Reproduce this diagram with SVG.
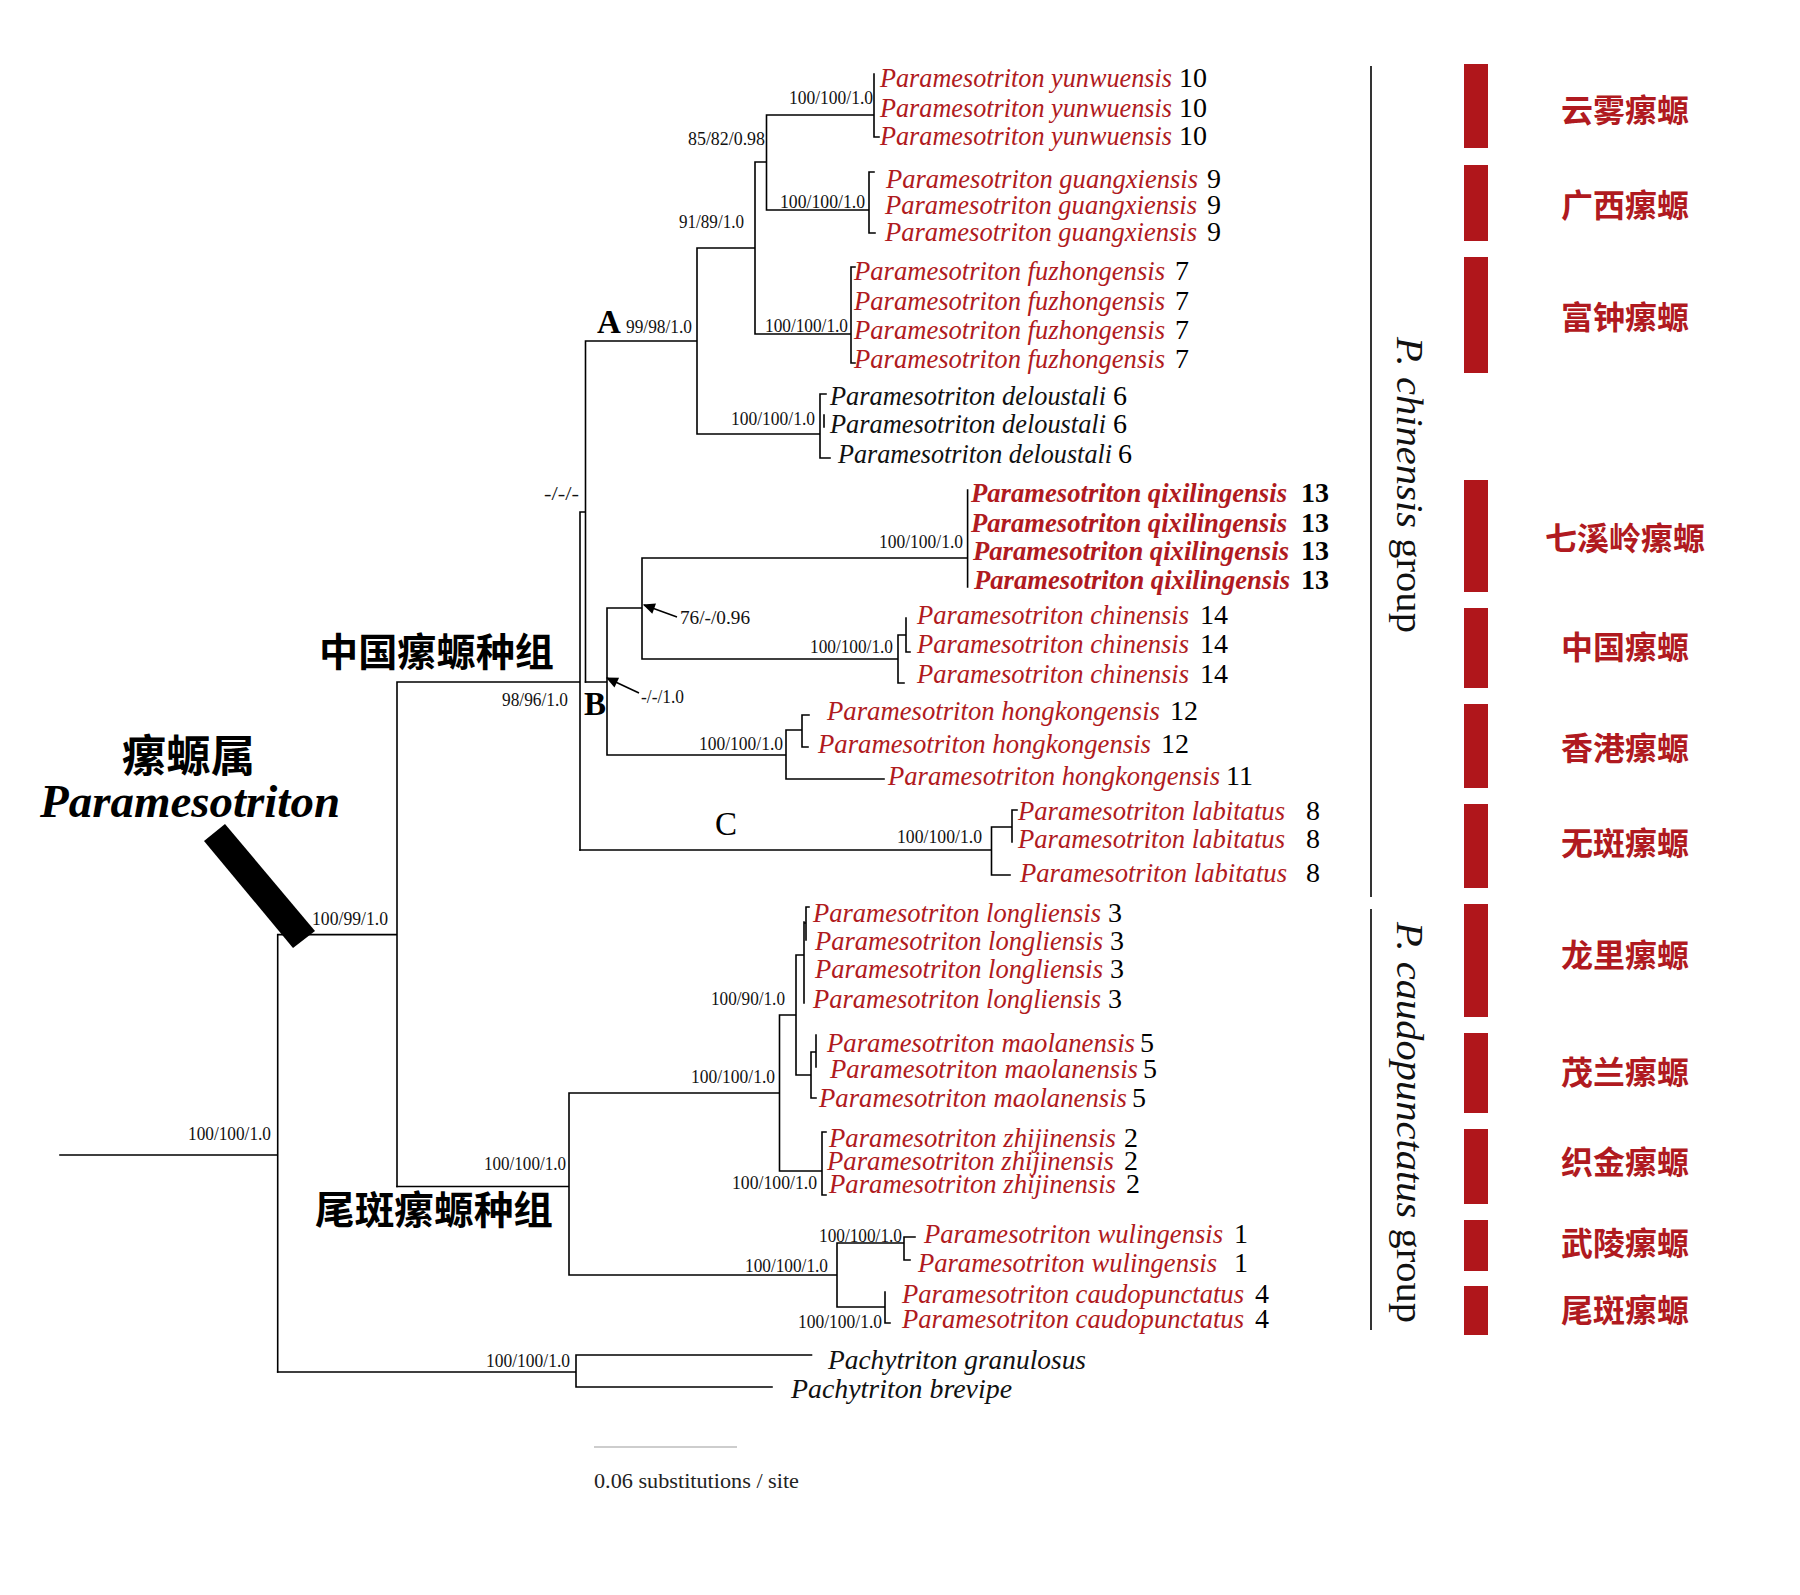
<svg xmlns="http://www.w3.org/2000/svg" width="1800" height="1595" viewBox="0 0 1800 1595">
<style>
.br{stroke:#000;stroke-width:1.6;fill:none;stroke-linecap:square}
.sp{font-family:"Liberation Serif","Times New Roman",serif;font-style:italic;font-size:27px;fill:#B01A20}
.spb{font-weight:bold}
.blk{fill:#111}
.num{font-family:"Liberation Serif","Times New Roman",serif;font-size:28px;fill:#000}
.sup{font-family:"Liberation Serif","Times New Roman",serif;font-size:19px;fill:#111}
.clade{font-family:"Liberation Serif","Times New Roman",serif;font-size:33px;fill:#000}
.cn{font-family:"Noto Sans CJK SC",sans-serif;font-weight:bold}
.rl{font-family:"Noto Sans CJK SC",sans-serif;font-weight:bold;font-size:32px;fill:#B01A20;text-anchor:middle}
.bar{fill:#B0161B}
.grp{font-family:"Liberation Serif","Times New Roman",serif;font-size:37px;fill:#111}
.end{text-anchor:end}
</style>
<defs>
<marker id="ah" viewBox="0 0 10 10" refX="9" refY="5" markerWidth="14" markerHeight="12" markerUnits="userSpaceOnUse" orient="auto"><path d="M0,0.5 L10,5 L0,9.5 z" fill="#000"/></marker>
</defs>
<rect width="1800" height="1595" fill="#fff"/>

<g id="connectors">
<path class="br" d="M60 1155 H277.7 M277.7 934.6 V1372 M277.7 934.6 H397 M397 682 V1186.5 M397 682 H580 M580 512 V850 M580 512 H585.5 M585.5 341 V682 M585.5 341 H697 M697 248 V434 M697 248 H755 M755 162 V334 M755 162 H766.5 M766.5 115 V210 M766.5 115 H874 M874 74 V137 M874 137 H879 M766.5 210 H869 M869 172 V233 M869 172 H874 M869 233 H875 M755 334 H851 M851 267 V363 M851 267 H855 M851 363 H855 M697 434 H820 M820 394 V458 M820 394 H826 M820 458 H830 M824 415 V427"/>
<path class="br" d="M585.5 682 H607 M607 608 V755 M607 608 H642 M642 558 V659 M642 558 H967.6 M967.6 490 V587 M642 659 H898 M898 635 V683 M898 683 H904 M898 635 H906 M906 618 V652 M906 652 H910 M607 755 H786 M786 730 V779 M786 730 H802 M802 715 V747 M802 715 H809 M802 747 H808 M786 779 H884 M580 850 H991.5 M991.5 827 V875 M991.5 875 H1010 M991.5 827 H1012 M1012 810 V842 M1012 810 H1017"/>
<path class="br" d="M397 1186.5 H569 M569 1093 V1275 M569 1093 H779.5 M779.5 1015 V1171 M779.5 1015 H796 M796 955 V1075 M796 955 H804 M804 922 V1003 M804 923 H806 M806 907 V940 M806 907 H809 M796 1075 H811 M811 1052 V1098 M811 1098 H816 M811 1052 H816 M816 1035 V1067 M779.5 1171 H822 M822 1132 V1195 M822 1132 H826 M822 1195 H826 M569 1275 H837 M837 1243 V1307 M837 1243 H904 M904 1237 V1260 M904 1237 H915 M904 1260 H910 M837 1307 H885 M885 1292 V1323 M885 1323 H890 M277.7 1372 H576 M576 1355 V1387 M576 1355 H811.5 M576 1387 H772"/>
<line x1="677" y1="617" x2="644" y2="605" stroke="#000" stroke-width="1.6" marker-end="url(#ah)"/>
<line x1="639" y1="693" x2="607" y2="678" stroke="#000" stroke-width="1.6" marker-end="url(#ah)"/>
<polygon points="204,841 225,824 315,931 293,948" fill="#000"/>
<line x1="1371" y1="66" x2="1371" y2="897" stroke="#000" stroke-width="1.6"/>
<line x1="1371" y1="909" x2="1371" y2="1330" stroke="#000" stroke-width="1.6"/>
<line x1="594" y1="1447" x2="737" y2="1447" stroke="#bdbdbd" stroke-width="1.3"/>
</g>

<g id="support-values">
<text class="sup end" x="873" y="104" textLength="84" lengthAdjust="spacingAndGlyphs">100/100/1.0</text>
<text class="sup end" x="765" y="145" textLength="77" lengthAdjust="spacingAndGlyphs">85/82/0.98</text>
<text class="sup end" x="865" y="208" textLength="85" lengthAdjust="spacingAndGlyphs">100/100/1.0</text>
<text class="sup end" x="744" y="228" textLength="65" lengthAdjust="spacingAndGlyphs">91/89/1.0</text>
<text class="sup end" x="848" y="332" textLength="83" lengthAdjust="spacingAndGlyphs">100/100/1.0</text>
<text class="sup end" x="692" y="333" textLength="66" lengthAdjust="spacingAndGlyphs">99/98/1.0</text>
<text class="sup end" x="815" y="425" textLength="84" lengthAdjust="spacingAndGlyphs">100/100/1.0</text>
<text class="sup end" x="579" y="500" textLength="35" lengthAdjust="spacingAndGlyphs">-/-/-</text>
<text class="sup end" x="963" y="548" textLength="84" lengthAdjust="spacingAndGlyphs">100/100/1.0</text>
<text class="sup" x="680" y="624" textLength="70" lengthAdjust="spacingAndGlyphs">76/-/0.96</text>
<text class="sup end" x="893" y="653" textLength="83" lengthAdjust="spacingAndGlyphs">100/100/1.0</text>
<text class="sup" x="641" y="703" textLength="43" lengthAdjust="spacingAndGlyphs">-/-/1.0</text>
<text class="sup end" x="568" y="706" textLength="66" lengthAdjust="spacingAndGlyphs">98/96/1.0</text>
<text class="sup end" x="783" y="750" textLength="84" lengthAdjust="spacingAndGlyphs">100/100/1.0</text>
<text class="sup end" x="982" y="843" textLength="85" lengthAdjust="spacingAndGlyphs">100/100/1.0</text>
<text class="sup" x="312" y="925" textLength="76" lengthAdjust="spacingAndGlyphs">100/99/1.0</text>
<text class="sup end" x="785" y="1005" textLength="74" lengthAdjust="spacingAndGlyphs">100/90/1.0</text>
<text class="sup end" x="775" y="1083" textLength="84" lengthAdjust="spacingAndGlyphs">100/100/1.0</text>
<text class="sup end" x="271" y="1140" textLength="83" lengthAdjust="spacingAndGlyphs">100/100/1.0</text>
<text class="sup end" x="566" y="1170" textLength="82" lengthAdjust="spacingAndGlyphs">100/100/1.0</text>
<text class="sup end" x="817" y="1189" textLength="85" lengthAdjust="spacingAndGlyphs">100/100/1.0</text>
<text class="sup end" x="902" y="1242" textLength="83" lengthAdjust="spacingAndGlyphs">100/100/1.0</text>
<text class="sup end" x="828" y="1272" textLength="83" lengthAdjust="spacingAndGlyphs">100/100/1.0</text>
<text class="sup end" x="882" y="1328" textLength="84" lengthAdjust="spacingAndGlyphs">100/100/1.0</text>
<text class="sup end" x="570" y="1367" textLength="84" lengthAdjust="spacingAndGlyphs">100/100/1.0</text>
</g>

<g id="clade-labels">
<text class="clade" x="597" y="333" font-weight="bold">A</text>
<text class="clade" x="584" y="715" font-weight="bold">B</text>
<text class="clade" x="715" y="835">C</text>
</g>

<g id="genus-label">
<text class="cn" x="122" y="772" font-size="44" textLength="133" lengthAdjust="spacingAndGlyphs">瘰螈属</text>
<text x="40" y="817" font-family="Liberation Serif, Times New Roman, serif" font-style="italic" font-weight="bold" font-size="46" textLength="300" lengthAdjust="spacingAndGlyphs">Paramesotriton</text>
</g>

<g id="group-chinensis-label"><text class="cn" x="319" y="666" font-size="39" textLength="235" lengthAdjust="spacingAndGlyphs">中国瘰螈种组</text></g>
<g id="group-caudopunctatus-label"><text class="cn" x="315" y="1224" font-size="39" textLength="238" lengthAdjust="spacingAndGlyphs">尾斑瘰螈种组</text></g>

<g id="taxon-yunwuensis">
<text class="sp" x="880" y="87" textLength="292" lengthAdjust="spacingAndGlyphs">Paramesotriton yunwuensis</text>
<text class="sp" x="880" y="117" textLength="292" lengthAdjust="spacingAndGlyphs">Paramesotriton yunwuensis</text>
<text class="sp" x="880" y="145" textLength="292" lengthAdjust="spacingAndGlyphs">Paramesotriton yunwuensis</text>
<text class="num" x="1179" y="87">10</text><text class="num" x="1179" y="117">10</text><text class="num" x="1179" y="145">10</text>
</g>
<g id="taxon-guangxiensis">
<text class="sp" x="886" y="188" textLength="312" lengthAdjust="spacingAndGlyphs">Paramesotriton guangxiensis</text>
<text class="sp" x="885" y="214" textLength="312" lengthAdjust="spacingAndGlyphs">Paramesotriton guangxiensis</text>
<text class="sp" x="885" y="241" textLength="312" lengthAdjust="spacingAndGlyphs">Paramesotriton guangxiensis</text>
<text class="num" x="1207" y="188">9</text><text class="num" x="1207" y="214">9</text><text class="num" x="1207" y="241">9</text>
</g>
<g id="taxon-fuzhongensis">
<text class="sp" x="854" y="280" textLength="311" lengthAdjust="spacingAndGlyphs">Paramesotriton fuzhongensis</text>
<text class="sp" x="854" y="310" textLength="311" lengthAdjust="spacingAndGlyphs">Paramesotriton fuzhongensis</text>
<text class="sp" x="854" y="339" textLength="311" lengthAdjust="spacingAndGlyphs">Paramesotriton fuzhongensis</text>
<text class="sp" x="854" y="368" textLength="311" lengthAdjust="spacingAndGlyphs">Paramesotriton fuzhongensis</text>
<text class="num" x="1175" y="280">7</text><text class="num" x="1175" y="310">7</text><text class="num" x="1175" y="339">7</text><text class="num" x="1175" y="368">7</text>
</g>
<g id="taxon-deloustali">
<text class="sp blk" x="830" y="405" textLength="276" lengthAdjust="spacingAndGlyphs">Paramesotriton deloustali</text>
<text class="sp blk" x="830" y="433" textLength="276" lengthAdjust="spacingAndGlyphs">Paramesotriton deloustali</text>
<text class="sp blk" x="838" y="463" textLength="274" lengthAdjust="spacingAndGlyphs">Paramesotriton deloustali</text>
<text class="num" x="1113" y="405">6</text><text class="num" x="1113" y="433">6</text><text class="num" x="1118" y="463">6</text>
</g>
<g id="taxon-qixilingensis">
<text class="sp spb" x="971" y="502" textLength="316" lengthAdjust="spacingAndGlyphs">Paramesotriton qixilingensis</text>
<text class="sp spb" x="971" y="532" textLength="316" lengthAdjust="spacingAndGlyphs">Paramesotriton qixilingensis</text>
<text class="sp spb" x="973" y="560" textLength="316" lengthAdjust="spacingAndGlyphs">Paramesotriton qixilingensis</text>
<text class="sp spb" x="974" y="589" textLength="316" lengthAdjust="spacingAndGlyphs">Paramesotriton qixilingensis</text>
<text class="num" x="1301" y="502" font-weight="bold">13</text><text class="num" x="1301" y="532" font-weight="bold">13</text><text class="num" x="1301" y="560" font-weight="bold">13</text><text class="num" x="1301" y="589" font-weight="bold">13</text>
</g>
<g id="taxon-chinensis">
<text class="sp" x="917" y="624" textLength="272" lengthAdjust="spacingAndGlyphs">Paramesotriton chinensis</text>
<text class="sp" x="917" y="653" textLength="272" lengthAdjust="spacingAndGlyphs">Paramesotriton chinensis</text>
<text class="sp" x="917" y="683" textLength="272" lengthAdjust="spacingAndGlyphs">Paramesotriton chinensis</text>
<text class="num" x="1200" y="624">14</text><text class="num" x="1200" y="653">14</text><text class="num" x="1200" y="683">14</text>
</g>
<g id="taxon-hongkongensis">
<text class="sp" x="827" y="720" textLength="333" lengthAdjust="spacingAndGlyphs">Paramesotriton hongkongensis</text>
<text class="sp" x="818" y="753" textLength="333" lengthAdjust="spacingAndGlyphs">Paramesotriton hongkongensis</text>
<text class="sp" x="888" y="785" textLength="332" lengthAdjust="spacingAndGlyphs">Paramesotriton hongkongensis</text>
<text class="num" x="1170" y="720">12</text><text class="num" x="1161" y="753">12</text><text class="num" x="1226" y="785">11</text>
</g>
<g id="taxon-labitatus">
<text class="sp" x="1018" y="820" textLength="267" lengthAdjust="spacingAndGlyphs">Paramesotriton labitatus</text>
<text class="sp" x="1018" y="848" textLength="267" lengthAdjust="spacingAndGlyphs">Paramesotriton labitatus</text>
<text class="sp" x="1020" y="882" textLength="267" lengthAdjust="spacingAndGlyphs">Paramesotriton labitatus</text>
<text class="num" x="1306" y="820">8</text><text class="num" x="1306" y="848">8</text><text class="num" x="1306" y="882">8</text>
</g>
<g id="taxon-longliensis">
<text class="sp" x="813" y="922" textLength="288" lengthAdjust="spacingAndGlyphs">Paramesotriton longliensis</text>
<text class="sp" x="815" y="950" textLength="288" lengthAdjust="spacingAndGlyphs">Paramesotriton longliensis</text>
<text class="sp" x="815" y="978" textLength="288" lengthAdjust="spacingAndGlyphs">Paramesotriton longliensis</text>
<text class="sp" x="813" y="1008" textLength="288" lengthAdjust="spacingAndGlyphs">Paramesotriton longliensis</text>
<text class="num" x="1108" y="922">3</text><text class="num" x="1110" y="950">3</text><text class="num" x="1110" y="978">3</text><text class="num" x="1108" y="1008">3</text>
</g>
<g id="taxon-maolanensis">
<text class="sp" x="827" y="1052" textLength="308" lengthAdjust="spacingAndGlyphs">Paramesotriton maolanensis</text>
<text class="sp" x="830" y="1078" textLength="308" lengthAdjust="spacingAndGlyphs">Paramesotriton maolanensis</text>
<text class="sp" x="819" y="1107" textLength="308" lengthAdjust="spacingAndGlyphs">Paramesotriton maolanensis</text>
<text class="num" x="1140" y="1052">5</text><text class="num" x="1143" y="1078">5</text><text class="num" x="1132" y="1107">5</text>
</g>
<g id="taxon-zhijinensis">
<text class="sp" x="829" y="1147" font-size="25" textLength="287" lengthAdjust="spacingAndGlyphs">Paramesotriton zhijinensis</text>
<text class="sp" x="827" y="1170" font-size="25" textLength="287" lengthAdjust="spacingAndGlyphs">Paramesotriton zhijinensis</text>
<text class="sp" x="829" y="1193" font-size="25" textLength="287" lengthAdjust="spacingAndGlyphs">Paramesotriton zhijinensis</text>
<text class="num" x="1124" y="1147" font-size="26">2</text><text class="num" x="1124" y="1170" font-size="26">2</text><text class="num" x="1126" y="1193" font-size="26">2</text>
</g>
<g id="taxon-wulingensis">
<text class="sp" x="924" y="1243" textLength="299" lengthAdjust="spacingAndGlyphs">Paramesotriton wulingensis</text>
<text class="sp" x="918" y="1272" textLength="299" lengthAdjust="spacingAndGlyphs">Paramesotriton wulingensis</text>
<text class="num" x="1234" y="1243">1</text><text class="num" x="1234" y="1272">1</text>
</g>
<g id="taxon-caudopunctatus">
<text class="sp" x="902" y="1303" textLength="342" lengthAdjust="spacingAndGlyphs">Paramesotriton caudopunctatus</text>
<text class="sp" x="902" y="1328" textLength="342" lengthAdjust="spacingAndGlyphs">Paramesotriton caudopunctatus</text>
<text class="num" x="1255" y="1303">4</text><text class="num" x="1255" y="1328">4</text>
</g>
<g id="taxon-pachytriton">
<text class="sp blk" x="828" y="1369" font-size="28" textLength="258" lengthAdjust="spacingAndGlyphs">Pachytriton  granulosus</text>
<text class="sp blk" x="791" y="1398" font-size="28" textLength="221" lengthAdjust="spacingAndGlyphs">Pachytriton  brevipe</text>
</g>

<g id="group-chinensis">
<text class="grp" transform="translate(1397,337) rotate(90)" textLength="296" lengthAdjust="spacingAndGlyphs"><tspan font-style="italic">P. chinensis</tspan> group</text>
</g>
<g id="group-caudopunctatus">
<text class="grp" transform="translate(1397,922) rotate(90)" textLength="401" lengthAdjust="spacingAndGlyphs"><tspan font-style="italic">P. caudopunctatus</tspan> group</text>
</g>

<g id="species-bars">
<rect class="bar" x="1464" y="64" width="24" height="84"/>
<rect class="bar" x="1464" y="165" width="24" height="76"/>
<rect class="bar" x="1464" y="257" width="24" height="116"/>
<rect class="bar" x="1464" y="480" width="24" height="112"/>
<rect class="bar" x="1464" y="608" width="24" height="80"/>
<rect class="bar" x="1464" y="704" width="24" height="84"/>
<rect class="bar" x="1464" y="804" width="24" height="84"/>
<rect class="bar" x="1464" y="904" width="24" height="113"/>
<rect class="bar" x="1464" y="1033" width="24" height="80"/>
<rect class="bar" x="1464" y="1129" width="24" height="75"/>
<rect class="bar" x="1464" y="1220" width="24" height="51"/>
<rect class="bar" x="1464" y="1286" width="24" height="49"/>
</g>
<g id="species-names-cn">
<text class="rl" x="1625" y="122">云雾瘰螈</text>
<text class="rl" x="1625" y="217">广西瘰螈</text>
<text class="rl" x="1625" y="329">富钟瘰螈</text>
<text class="rl" x="1625" y="550">七溪岭瘰螈</text>
<text class="rl" x="1625" y="659">中国瘰螈</text>
<text class="rl" x="1625" y="760">香港瘰螈</text>
<text class="rl" x="1625" y="855">无斑瘰螈</text>
<text class="rl" x="1625" y="967">龙里瘰螈</text>
<text class="rl" x="1625" y="1084">茂兰瘰螈</text>
<text class="rl" x="1625" y="1174">织金瘰螈</text>
<text class="rl" x="1625" y="1255">武陵瘰螈</text>
<text class="rl" x="1625" y="1322">尾斑瘰螈</text>
</g>

<g id="scale-bar">
<text x="594" y="1488" font-family="Liberation Serif, Times New Roman, serif" font-size="22" fill="#222" textLength="205" lengthAdjust="spacingAndGlyphs">0.06 substitutions / site</text>
</g>
</svg>
